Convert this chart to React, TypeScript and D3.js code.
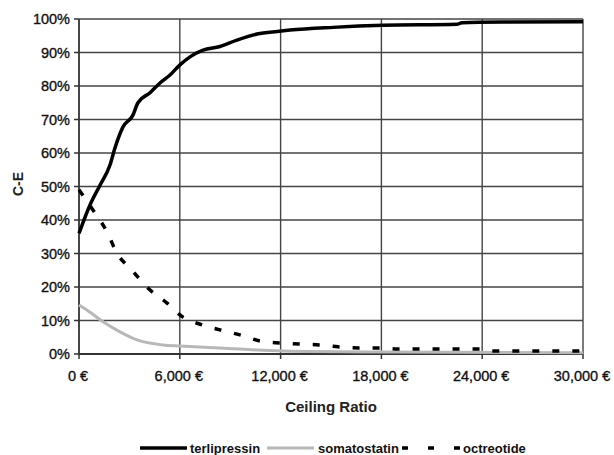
import React, { useEffect, useRef } from 'react';
import * as d3 from 'd3';

// values (ceiling ratio in €, probability C-E in %)
const terlipressin: [number, number][] = [
  [0, 36], [655, 44.5], [1250, 50.4], [1845, 56.4], [2140, 61.5], [2620, 67.8],
  [3210, 71.3], [3510, 75], [4230, 78], [4820, 80.9], [5420, 83.3], [6010, 86.3],
  [6610, 88.7], [7380, 90.7], [8390, 91.8], [9400, 93.7], [10600, 95.5],
  [11800, 96.3], [12560, 96.7], [15120, 97.5], [18100, 98.1], [22500, 98.4],
  [22800, 98.9], [25500, 99.1], [30000, 99.2],
];
const somatostatin: [number, number][] = [
  [0, 14.6], [700, 12.3], [1430, 9.6], [2440, 6.6], [3450, 4.2], [5000, 2.7],
  [6010, 2.4], [8390, 1.8], [12140, 0.9], [18000, 0.6], [30000, 0.4],
];
const octreotide: [number, number][] = [
  [0, 49], [830, 43], [1670, 36.4], [2260, 30.1], [3150, 25], [4100, 19.7],
  [5240, 15.2], [6190, 11], [7320, 8.7], [8390, 7.2], [9580, 5.7], [10770, 3.9],
  [11960, 3.3], [13150, 3.0], [14290, 2.7], [15480, 2.1], [16670, 1.8],
  [17860, 1.8], [19000, 1.5], [24000, 1.5], [24500, 0.9], [30000, 0.9],
];
const xTicks = [0, 6000, 12000, 18000, 24000, 30000];
const yTicks = [0, 10, 20, 30, 40, 50, 60, 70, 80, 90, 100];

const series = [
  { name: 'terlipressin', data: terlipressin, color: '#000', width: 3.5, dash: null },
  { name: 'somatostatin', data: somatostatin, color: '#b8b8b8', width: 3, dash: null },
  { name: 'octreotide', data: octreotide, color: '#000', width: 3.5, dash: '7,13' },
];

const App = () => {
  const svgRef = useRef<SVGSVGElement>(null);

  useEffect(() => {
    const width = 614;
    const height = 455;
    const margin = { top: 19, right: 31, bottom: 101, left: 79 };

    const svg = d3.select(svgRef.current);
    svg.selectAll('*').remove();

    const x = d3.scaleLinear().domain([0, 30000]).range([margin.left, width - margin.right]);
    const y = d3.scaleLinear().domain([0, 100]).range([height - margin.bottom, margin.top]);

    const font = '"Liberation Sans", Arial, sans-serif';
    const grid = svg.append('g');

    // gridlines
    grid.selectAll('line.h')
      .data(yTicks.slice(1))
      .enter().append('line')
      .attr('x1', x(0)).attr('x2', x(30000))
      .attr('y1', d => y(d)).attr('y2', d => y(d))
      .attr('stroke', '#444').attr('stroke-width', 1.4);
    grid.selectAll('line.v')
      .data(xTicks.slice(1))
      .enter().append('line')
      .attr('x1', d => x(d)).attr('x2', d => x(d))
      .attr('y1', y(0)).attr('y2', y(100))
      .attr('stroke', '#444').attr('stroke-width', 1.4);

    // axes
    grid.append('line')
      .attr('x1', x(0)).attr('x2', x(0)).attr('y1', y(0)).attr('y2', y(100))
      .attr('stroke', '#333').attr('stroke-width', 1.8);
    grid.append('line')
      .attr('x1', x(0)).attr('x2', x(30000)).attr('y1', y(0)).attr('y2', y(0))
      .attr('stroke', '#333').attr('stroke-width', 1.8);

    grid.selectAll('line.yt')
      .data(yTicks)
      .enter().append('line')
      .attr('x1', x(0) - 5).attr('x2', x(0))
      .attr('y1', d => y(d)).attr('y2', d => y(d))
      .attr('stroke', '#333').attr('stroke-width', 1.5);
    grid.selectAll('line.xt')
      .data(xTicks)
      .enter().append('line')
      .attr('x1', d => x(d)).attr('x2', d => x(d))
      .attr('y1', y(0)).attr('y2', y(0) + 5)
      .attr('stroke', '#333').attr('stroke-width', 1.5);

    // tick labels
    svg.selectAll('text.yl')
      .data(yTicks)
      .enter().append('text')
      .attr('x', 70).attr('y', d => y(d) + 5)
      .attr('text-anchor', 'end')
      .attr('font-family', font).attr('font-size', 14.5)
      .attr('fill', '#111').attr('stroke', '#111').attr('stroke-width', 0.35)
      .text(d => `${d}%`);

    const fmt = d3.format(',');
    svg.selectAll('text.xl')
      .data(xTicks)
      .enter().append('text')
      .attr('x', d => x(d) - 1).attr('y', 381)
      .attr('text-anchor', 'middle')
      .attr('font-family', font).attr('font-size', 14.5)
      .attr('fill', '#111').attr('stroke', '#111').attr('stroke-width', 0.35)
      .text(d => `${fmt(d)} €`);

    // axis titles
    svg.append('text')
      .attr('x', 331).attr('y', 412)
      .attr('text-anchor', 'middle')
      .attr('font-family', font).attr('font-size', 15).attr('font-weight', 'bold')
      .attr('fill', '#222')
      .text('Ceiling Ratio');
    svg.append('text')
      .attr('transform', 'translate(23,184) rotate(-90)')
      .attr('text-anchor', 'middle')
      .attr('font-family', font).attr('font-size', 14).attr('font-weight', 'bold')
      .attr('fill', '#222')
      .text('C-E');

    // lines
    const line = d3.line<[number, number]>()
      .x(d => x(d[0]))
      .y(d => y(d[1]))
      .curve(d3.curveMonotoneX);

    series.forEach(s => {
      const p = svg.append('path')
        .datum(s.data)
        .attr('d', line)
        .attr('fill', 'none')
        .attr('stroke', s.color)
        .attr('stroke-width', s.width);
      if (s.dash) p.attr('stroke-dasharray', s.dash);
    });

    // legend
    const legend = [
      { x1: 140, x2: 187, tx: 190, s: series[0], dash: null },
      { x1: 267, x2: 314, tx: 318, s: series[1], dash: null },
      { x1: 402, x2: 460, tx: 463, s: series[2], dash: '6,20' },
    ];
    legend.forEach(l => {
      const ln = svg.append('line')
        .attr('x1', l.x1).attr('x2', l.x2).attr('y1', 448).attr('y2', 448)
        .attr('stroke', l.s.color).attr('stroke-width', l.s.width);
      if (l.dash) ln.attr('stroke-dasharray', l.dash);
      svg.append('text')
        .attr('x', l.tx).attr('y', 453)
        .attr('font-family', font).attr('font-size', 13).attr('font-weight', 'bold')
        .attr('fill', '#111')
        .text(l.s.name);
    });
  }, []);

  return (
    <svg
      ref={svgRef}
      width={614}
      height={455}
      style={{ position: 'absolute', left: 0, top: 0, background: '#fff' }}
    />
  );
};

export default App;
